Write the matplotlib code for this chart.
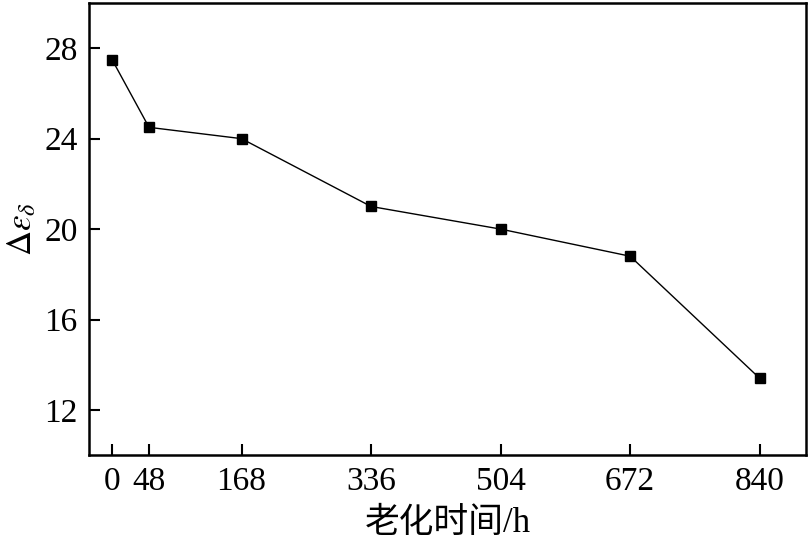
import matplotlib
matplotlib.use('Agg')
import matplotlib.pyplot as plt

# aging time (h) and delta epsilon
hours = [0, 48, 168, 336, 504, 672, 840]
delta_eps = [27.5, 24.5, 24.0, 21.0, 20.0, 18.8, 13.4]
y_ticks = [12, 16, 20, 24, 28]

plt.rcParams['font.family'] = ['Liberation Serif', 'Noto Sans CJK SC']
plt.rcParams['mathtext.fontset'] = 'stix'

fig = plt.figure(figsize=(8.08, 5.4), dpi=100)
ax = fig.add_axes([0.110, 0.157, 0.8875, 0.8375])

ax.plot(hours, delta_eps, color='black', linewidth=1.0,
        marker='s', markersize=7, markerfacecolor='black')

ax.set_xlim(-30, 900)
ax.set_ylim(10, 30)
ax.set_xticks(hours)
ax.set_xticklabels([str(h) for h in hours])
ax.set_yticks(y_ticks)

ax.tick_params(direction='in', length=8, width=1.5, labelsize=24, pad=8)
for sp in ax.spines.values():
    sp.set_linewidth(1.8)

ax.set_xlabel('老化时间/h', fontsize=25, labelpad=7)
ax.set_ylabel(r'$\Delta\varepsilon_{\delta}$', fontsize=25, labelpad=4)

fig.savefig('out.png', dpi=100)
